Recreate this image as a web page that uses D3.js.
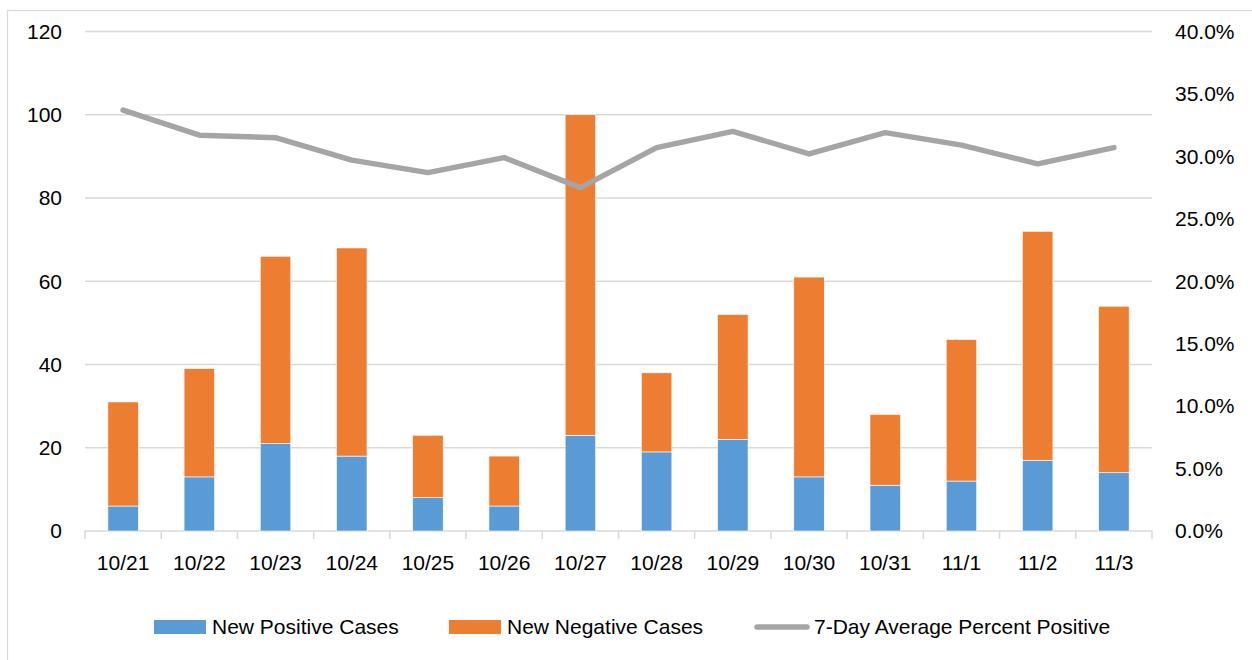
<!DOCTYPE html>
<html>
<head>
<meta charset="utf-8">
<script src="https://cdn.jsdelivr.net/npm/d3@7"></script>
<style>
  body { margin: 0; background: #fff; }
  text { font-family: "Liberation Sans", Arial, sans-serif; fill: #000; }
</style>
</head>
<body>
<script>
// chart data
var days = ["10/21", "10/22", "10/23", "10/24", "10/25", "10/26", "10/27",
            "10/28", "10/29", "10/30", "10/31", "11/1", "11/2", "11/3"];
var positive = [6, 13, 21, 18, 8, 6, 23, 19, 22, 13, 11, 12, 17, 14];
var negative = [25, 26, 45, 50, 15, 12, 77, 19, 30, 48, 17, 34, 55, 40];
var avgPercent = [33.7, 31.7, 31.5, 29.7, 28.7, 29.9, 27.5, 30.7, 32.0, 30.2, 31.9, 30.9, 29.4, 30.7];
var leftTicks = [0, 20, 40, 60, 80, 100, 120];
var rightTicks = [0, 5, 10, 15, 20, 25, 30, 35, 40];
var seriesNames = ["New Positive Cases", "New Negative Cases", "7-Day Average Percent Positive"];

var width = 1252, height = 660;
var plot = { left: 85, right: 1152, top: 31.5, bottom: 531 };
var fontSize = "21px";

var svg = d3.select("body").append("svg")
  .attr("width", width)
  .attr("height", height);

// outer chart border
svg.append("rect")
  .attr("x", 7.5).attr("y", 10.5)
  .attr("width", 1260).attr("height", 700)
  .attr("fill", "none")
  .attr("stroke", "#d9d9d9")
  .attr("stroke-width", 1.2);

var x = d3.scaleBand()
  .domain(days)
  .range([plot.left, plot.right])
  .paddingInner(0.6)
  .paddingOuter(0.3);

var xEdge = d3.scaleLinear()
  .domain([0, days.length])
  .range([plot.left, plot.right]);

var y = d3.scaleLinear().domain([0, 120]).range([plot.bottom, plot.top]);
var y2 = d3.scaleLinear().domain([0, 40]).range([plot.bottom, plot.top]);

// gridlines
svg.append("g").selectAll("line")
  .data(leftTicks)
  .enter().append("line")
  .attr("x1", plot.left).attr("x2", plot.right)
  .attr("y1", function (d) { return y(d); })
  .attr("y2", function (d) { return y(d); })
  .attr("stroke", "#d9d9d9")
  .attr("stroke-width", 1.5);

// category tick marks
svg.append("g").selectAll("line")
  .data(d3.range(days.length + 1))
  .enter().append("line")
  .attr("x1", function (d) { return xEdge(d); })
  .attr("x2", function (d) { return xEdge(d); })
  .attr("y1", plot.bottom).attr("y2", plot.bottom + 8)
  .attr("stroke", "#d9d9d9")
  .attr("stroke-width", 1.5);

// left axis labels
svg.append("g").selectAll("text")
  .data(leftTicks)
  .enter().append("text")
  .attr("x", 62)
  .attr("y", function (d) { return y(d); })
  .attr("dy", "0.35em")
  .attr("text-anchor", "end")
  .style("font-size", fontSize)
  .text(function (d) { return d; });

// right axis labels
svg.append("g").selectAll("text")
  .data(rightTicks)
  .enter().append("text")
  .attr("x", 1175)
  .attr("y", function (d) { return y2(d); })
  .attr("dy", "0.35em")
  .attr("text-anchor", "start")
  .style("font-size", fontSize)
  .text(function (d) { return d.toFixed(1) + "%"; });

// x labels
svg.append("g").selectAll("text")
  .data(days)
  .enter().append("text")
  .attr("x", function (d) { return x(d) + x.bandwidth() / 2; })
  .attr("y", 563)
  .attr("dy", "0.35em")
  .attr("text-anchor", "middle")
  .style("font-size", fontSize)
  .text(function (d) { return d; });

// stacked bars
var stackData = days.map(function (d, i) {
  return { day: d, pos: positive[i], neg: negative[i] };
});
var stacked = d3.stack().keys(["pos", "neg"])(stackData);
var barColors = ["#5b9bd5", "#ed7d31"];

svg.append("g").selectAll("g")
  .data(stacked)
  .enter().append("g")
  .attr("fill", function (d, i) { return barColors[i]; })
  .selectAll("rect")
  .data(function (d) { return d; })
  .enter().append("rect")
  .attr("x", function (d) { return x(d.data.day); })
  .attr("y", function (d) { return y(d[1]); })
  .attr("width", x.bandwidth())
  .attr("height", function (d) { return y(d[0]) - y(d[1]); })
  .attr("stroke", "#ffffff")
  .attr("stroke-width", 0.6);

// average line
var line = d3.line()
  .x(function (d, i) { return x(days[i]) + x.bandwidth() / 2; })
  .y(function (d) { return y2(d); });

svg.append("path")
  .datum(avgPercent)
  .attr("d", line)
  .attr("fill", "none")
  .attr("stroke", "#a5a5a5")
  .attr("stroke-width", 5.5)
  .attr("stroke-linejoin", "round")
  .attr("stroke-linecap", "round");

// legend
var legendY = 627;
var legendX = [154, 449, 754];
var legend = svg.append("g");

legend.append("rect")
  .attr("x", legendX[0]).attr("y", legendY - 7)
  .attr("width", 52).attr("height", 14)
  .attr("fill", barColors[0]);
legend.append("rect")
  .attr("x", legendX[1]).attr("y", legendY - 7)
  .attr("width", 52).attr("height", 14)
  .attr("fill", barColors[1]);
legend.append("line")
  .attr("x1", legendX[2] + 3).attr("x2", legendX[2] + 53)
  .attr("y1", legendY).attr("y2", legendY)
  .attr("stroke", "#a5a5a5")
  .attr("stroke-width", 5.5)
  .attr("stroke-linecap", "round");

legend.selectAll("text")
  .data(seriesNames)
  .enter().append("text")
  .attr("x", function (d, i) { return legendX[i] + (i === 2 ? 60 : 58); })
  .attr("y", legendY)
  .attr("dy", "0.35em")
  .style("font-size", fontSize)
  .text(function (d) { return d; });
</script>
</body>
</html>
